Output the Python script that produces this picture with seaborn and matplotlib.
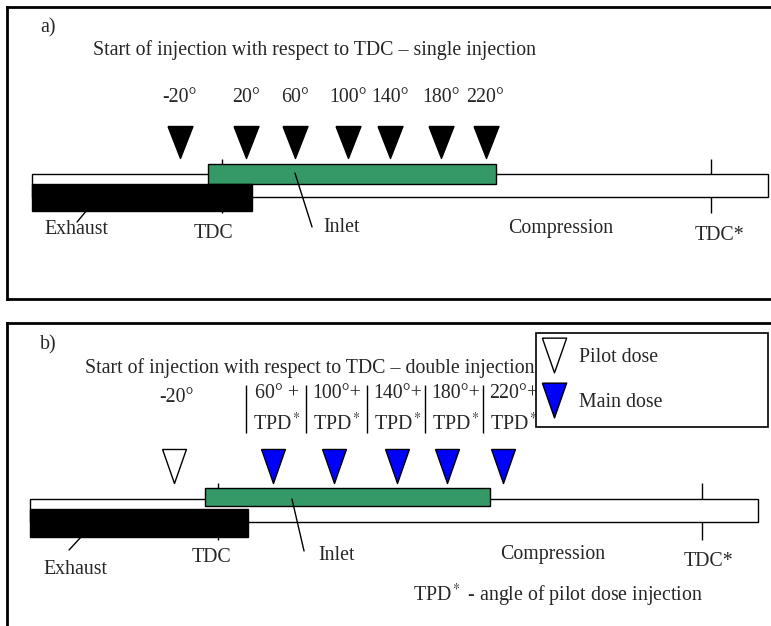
import matplotlib
matplotlib.use("Agg")
import matplotlib.pyplot as plt
import seaborn as sns
from matplotlib.lines import Line2D

# crank angles in degrees after TDC; positions are where the schematic draws them
single_labels = ["-20°", "20°", "60°", "100°", "140°", "180°", "220°"]
single_pos = [-31, 18, 54, 93, 124, 161, 194]

pilot_label = "-20°"
pilot_pos = [-33]
main_labels = ["60° +", "100°+", "140°+", "180°+", "220°+"]
main_pos = [41, 86, 133, 170, 212]
main_sep = [21, 65.5, 111, 154, 197]

# engine cycle phases (start, end) in degrees
cycle_span = (-140, 402)
inlet_span = (-10, 202)
exhaust_span = (-140, 22)
tdc_marks = [0, 360]
tdc_names = ["TDC", "TDC*"]

sns.set_theme(style="white")
plt.rcParams["font.family"] = ["Liberation Serif", "DejaVu Serif"]
plt.rcParams["mathtext.fontset"] = "stix"

FS = 14.3
W, H = 771, 626
GREEN = "#349966"
BLUE = "#0000ff"
# closed, downward-pointing triangles
tri_a = [(-0.39, 0.5), (0.39, 0.5), (0.0, -0.5), (-0.39, 0.5)]
tri_b = [(-0.35, 0.5), (0.35, 0.5), (0.0, -0.5), (-0.35, 0.5)]

fig = plt.figure(figsize=(W / 100, H / 100), dpi=100)


def panel(top, bottom, tdc_px, tdc2_px):
    k = (tdc2_px - tdc_px) / 360
    ax = fig.add_axes([7 / W, 1 - bottom / H, (800 - 7) / W, (bottom - top) / H])
    ax.set_xlim((7 - tdc_px) / k, (800 - tdc_px) / k)
    ax.set_ylim(bottom, top)
    ax.set_xticks([])
    ax.set_yticks([])
    for s in ax.spines.values():
        s.set_linewidth(2)
        s.set_color("black")
    return ax


def cycle(ax, yc, hc, yi, hi, ye, he, ytick):
    ax.barh(yc, cycle_span[1] - cycle_span[0], left=cycle_span[0], height=hc,
            color="white", edgecolor="black", lw=1, zorder=2)
    ax.barh(yi, inlet_span[1] - inlet_span[0], left=inlet_span[0], height=hi,
            color=GREEN, edgecolor="black", lw=1, zorder=3)
    ax.barh(ye, exhaust_span[1] - exhaust_span[0], left=exhaust_span[0], height=he,
            color="black", edgecolor="black", lw=1, zorder=3)
    ax.vlines(tdc_marks, ytick[0], ytick[1], color="black", lw=1, zorder=1)


# ---- a) single injection
ax = panel(7, 299, 222, 711)
ax.text(-134, 28, "a)", fontsize=FS, va="center")
ax.text(-95, 50, "Start of injection with respect to TDC \u2013 single injection",
        fontsize=FS, va="center")
for lab, p in zip(single_labels, single_pos):
    ax.text(p, 97, lab, fontsize=FS, ha="center", va="center")
sns.scatterplot(x=single_pos, y=[142] * len(single_pos), marker=tri_a, s=530,
                color="black", edgecolor="black", linewidth=1, ax=ax,
                legend=False, zorder=4)
cycle(ax, 185.5, 23, 174, 20, 197.5, 27, (159, 213))
ax.plot([-100, -106.7], [211, 222], color="black", lw=1)
ax.text(-107.5, 230, "Exhaust", fontsize=FS, ha="center", va="center")
ax.plot([53.7, 66.3], [173, 227], color="black", lw=1, zorder=5)
ax.text(88.3, 228, "Inlet", fontsize=FS, ha="center", va="center")
ax.text(249.6, 228, "Compression", fontsize=FS, ha="center", va="center")
ax.text(-6, 233, tdc_names[0], fontsize=FS, ha="center", va="center")
ax.text(366, 235, tdc_names[1], fontsize=FS, ha="center", va="center")

# ---- b) double injection
bx = panel(323, 660, 218, 702)
bx.text(-132.4, 345, "b)", fontsize=FS, va="center")
bx.text(-99, 368, "Start of injection with respect to TDC \u2013 double injection",
        fontsize=FS, va="center")
bx.text(pilot_pos[0] + 2, 397, pilot_label, fontsize=FS, ha="center", va="center")
bx.vlines(main_sep, 385, 433, color="black", lw=1)
for lab, sp in zip(main_labels, main_sep):
    bx.text(sp + 23, 393, lab, fontsize=FS, ha="center", va="center")
    bx.text(sp + 23, 424, "TPD$^*$", fontsize=FS, ha="center", va="center")
sns.scatterplot(x=pilot_pos, y=[466], marker=tri_b, s=600, color="white",
                edgecolor="black", linewidth=1, ax=bx, legend=False, zorder=4)
sns.scatterplot(x=main_pos, y=[466] * len(main_pos), marker=tri_b, s=600,
                color=BLUE, edgecolor="black", linewidth=1, ax=bx,
                legend=False, zorder=4)
cycle(bx, 510.5, 23, 497, 18, 523, 28, (483, 540))
bx.plot([-101.9, -110.8], [537, 550], color="black", lw=1)
bx.text(-106.4, 570, "Exhaust", fontsize=FS, ha="center", va="center")
bx.plot([55, 64], [499, 551], color="black", lw=1, zorder=5)
bx.text(88.5, 555, "Inlet", fontsize=FS, ha="center", va="center")
bx.text(249, 555, "Compression", fontsize=FS, ha="center", va="center")
bx.text(-4.5, 558, tdc_names[0], fontsize=FS, ha="center", va="center")
bx.text(365, 562, tdc_names[1], fontsize=FS, ha="center", va="center")
bx.text(253, 595, "TPD$^*$ - angle of pilot dose injection", fontsize=FS,
        ha="center", va="center")

handles = [
    Line2D([], [], ls="none", marker=tri_b, markersize=25, markerfacecolor="white",
           markeredgecolor="black", markeredgewidth=1, label="Pilot dose"),
    Line2D([], [], ls="none", marker=tri_b, markersize=25, markerfacecolor=BLUE,
           markeredgecolor="black", markeredgewidth=1, label="Main dose"),
]
leg = bx.legend(handles=handles, loc="upper left",
                bbox_to_anchor=(536 / W, (626 - 427) / H, 232 / W, 94 / H),
                bbox_transform=fig.transFigure, mode="expand", borderaxespad=0,
                borderpad=0.75, labelspacing=1.32, handlelength=0.3,
                handletextpad=1.12, fancybox=False, framealpha=1,
                edgecolor="black", fontsize=FS)
leg.get_frame().set_linewidth(1.2)

fig.savefig("out.png", dpi=100)
